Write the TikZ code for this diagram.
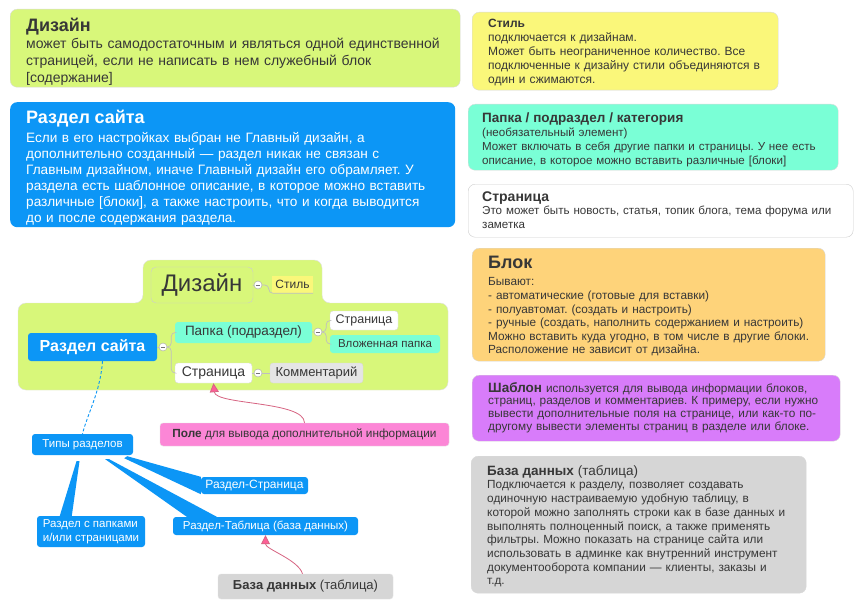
\documentclass[tikz,border=0pt]{standalone}
\usepackage{fontspec}
\setmainfont{Liberation Sans}
\usetikzlibrary{arrows.meta,calc}
\frenchspacing

\definecolor{dgreen}{RGB}{216,247,122}
\definecolor{dblue}{RGB}{12,150,246}
\definecolor{dyellow}{RGB}{250,247,122}
\definecolor{daqua}{RGB}{122,255,214}
\definecolor{dorange}{RGB}{254,211,122}
\definecolor{dviolet}{RGB}{216,124,250}
\definecolor{dgray}{RGB}{214,214,214}
\definecolor{dpink}{RGB}{252,134,214}
\definecolor{dtext}{RGB}{55,55,55}
\definecolor{dline}{RGB}{215,100,130}

\newcommand{\fs}[2]{\fontsize{#1}{#2}\selectfont}

\tikzset{
  note/.style = {draw = black!15, rounded corners = 7pt, anchor = north west, align = left, inner xsep = 16pt, inner ysep = 0pt, text = dtext},
  topic/.style = {rounded corners = 3pt, inner sep = 1pt, text = dtext},
  minus/.style = {circle, draw = black!35, fill = white, minimum size = 8pt, inner sep = 0pt,
    path picture = {\draw [black!55, line width = 0.9pt] ($(path picture bounding box.center) + (-2.2, 0)$) -- ($(path picture bounding box.center) + (2.2, 0)$);}},
  branch/.style = {draw = black!25, line width = 0.7pt, rounded corners = 4pt},
  wedge/.style = {fill = dblue},
  dashline/.style = {dblue, densely dashed, line width = 0.9pt},
  pinkarrow/.style = {dline, line width = 0.8pt, -{Triangle[length = 9pt, width = 9pt, fill = dpink!70!red]}}
}

\begin{document}
\begin{tikzpicture}[x = 1pt, y = -1pt]
\useasboundingbox [fill = white] (0, 0) rectangle (860, 610);
%\draw [very thin, color = gray!30] (0, 0) grid [step = 50] (860, 610);
% notes on the left
\node (dznote) at (10, 9) [note, fill = dgreen, text width = 418pt, text height = 22pt, text depth = 56pt, font = \fs{14}{17}]
  {{\fs{18}{22}\bfseries Дизайн}\\ может быть самодостаточным и являться одной единственной\\ страницей, если не написать в нем служебный блок\\{}[содержание]};
\node (rznote) at (10, 102) [note, draw = none, fill = dblue, text = white, text width = 413pt, text height = 21pt, text depth = 104pt, font = \fs{13.6}{16}]
  {{\fs{18}{22}\bfseries Раздел сайта}\\[3pt] Если в его настройках выбран не Главный дизайн, а\\ дополнительно созданный — раздел никак не связан с\\ Главным дизайном, иначе Главный дизайн его обрамляет. У\\ раздела есть шаблонное описание, в которое можно вставить\\ различные [блоки], а также настроить, что и когда выводится\\ до и после содержания раздела.};
% notes on the right
\node (stnote) at (472, 12) [note, fill = dyellow, text width = 274pt, text height = 15pt, text depth = 63pt, font = \fs{12}{14}]
  {{\bfseries Стиль}\\ подключается к дизайнам.\\ Может быть неограниченное количество. Все\\ подключенные к дизайну стили объединяются в\\ один и сжимаются.};
\node (pknote) at (468, 104) [note, inner xsep = 14pt, fill = daqua, text width = 342pt, text height = 18pt, text depth = 48pt, font = \fs{11.6}{14}]
  {{\fs{13.5}{16}\bfseries Папка / подраздел / категория}\\ (необязательный элемент)\\ Может включать в себя другие папки и страницы. У нее есть\\ описание, в которое можно вставить различные [блоки]};
\node (srnote) at (468, 184) [note, inner xsep = 14pt, fill = white, draw = black!20, text width = 357pt, text height = 17pt, text depth = 36pt, font = \fs{11.6}{13.5}]
  {{\fs{14}{16}\bfseries Страница}\\ Это может быть новость, статья, топик блога, тема форума или\\ заметка};
\node (blnote) at (472, 248) [note, fill = dorange, text width = 321pt, text height = 20pt, text depth = 93pt, font = \fs{11.8}{13.6}]
  {{\fs{18}{21}\bfseries Блок}\\[4pt] Бывают:\\ - автоматические (готовые для вставки)\\ - полуавтомат. (создать и настроить)\\ - ручные (создать, наполнить содержанием и настроить)\\ Можно вставить куда угодно, в том числе в другие блоки.\\ Расположение не зависит от дизайна.};
\node (shnote) at (472, 375) [note, fill = dviolet, text width = 336pt, text height = 17pt, text depth = 49pt, font = \fs{11.8}{12.7}]
  {{\fs{13.5}{14}\bfseries Шаблон} используется для вывода информации блоков,\\ страниц, разделов и комментариев. К примеру, если нужно\\ вывести дополнительные поля на странице, или как-то по-\\ другому вывести элементы страниц в разделе или блоке.};
\node (bdnote) at (471, 456) [note, fill = dgray, text width = 303pt, text height = 19pt, text depth = 118pt, font = \fs{11.8}{13.7}]
  {{\fs{13.5}{15}\bfseries База данных} {\fs{13.5}{15}(таблица)}\\ Подключается к разделу, позволяет создавать\\ одиночную настраиваемую удобную таблицу, в\\ которой можно заполнять строки как в базе данных и\\ выполнять полноценный поиск, а также применять\\ фильтры. Можно показать на странице сайта или\\ использовать в админке как внутренний инструмент\\ документооборота компании — клиенты, заказы и\\ т.д.};
% map
\draw [black!12, fill = dgreen, rounded corners = 8pt] (18, 303) -- (143, 303) -- (143, 260) -- (322, 260) -- (322, 303) -- (448, 303) -- (448, 390) -- (18, 390) -- cycle;
\node (dz) at (202, 285) [topic, draw = black!20, fill = dgreen, rounded corners = 5pt, minimum width = 102pt, minimum height = 36pt, font = \fs{24}{28}] {Дизайн};
\node (m1) at (258, 285) [minus] {};
\node (stil) at (292.5, 284.5) [topic, fill = dyellow, rounded corners = 0pt, minimum width = 41pt, minimum height = 17pt, font = \fs{12}{14}] {Стиль};
\node (razdel) at (92.5, 347) [topic, fill = dblue, text = white, minimum width = 129pt, minimum height = 28pt, font = \fs{16}{18}\bfseries] {Раздел сайта};
\node (m2) at (163, 347) [minus] {};
\node (papka) at (243.5, 332.5) [topic, fill = daqua, minimum width = 137pt, minimum height = 21pt, font = \fs{13.5}{16}] {Папка (подраздел)};
\node (m3) at (318, 332) [minus] {};
\node (str2) at (364, 320.5) [topic, draw = black!15, fill = white, minimum width = 68pt, minimum height = 19pt, font = \fs{12.5}{14}] {Страница};
\node (vlozh) at (385, 344) [topic, fill = daqua, minimum width = 110pt, minimum height = 18pt, font = \fs{11.5}{13}] {Вложенная папка};
\node (str1) at (213.5, 373) [topic, draw = black!15, fill = white, minimum width = 77pt, minimum height = 20pt, font = \fs{14}{16}] {Страница};
\node (m4) at (258, 373) [minus] {};
\node (komm) at (316.5, 373) [topic, draw = black!15, fill = black!10, minimum width = 93pt, minimum height = 20pt, font = \fs{13}{15}] {Комментарий};
\draw [branch] (dz) -- (m1);
\draw [branch] (m1.east) -| ([xshift = -3pt]stil.south west) -- (stil.south east);
\draw [branch] (razdel) -- (m2);
\draw [branch] (m2.east) -- ++(4, 0) |- (papka.west);
\draw [branch] (m2.east) -- ++(4, 0) |- (str1.west);
\draw [branch] (papka) -- (m3);
\draw [branch] (m3.east) -- ++(4, 0) |- (str2.west);
\draw [branch] (m3.east) -- ++(4, 0) |- (vlozh.west);
\draw [branch] (str1) -- (m4);
\draw [branch] (m4) -- (komm);
% section types
\node (tipy) at (82.5, 444.5) [topic, fill = dblue, text = white, minimum width = 101pt, minimum height = 21pt, font = \fs{11.5}{13}] {Типы разделов};
\node (rstr) at (254.5, 485.5) [topic, fill = dblue, text = white, minimum width = 107pt, minimum height = 17pt, font = \fs{12}{14}] {Раздел-Страница};
\node (rtab) at (265.5, 526) [topic, fill = dblue, text = white, minimum width = 185pt, minimum height = 18pt, font = \fs{11.5}{13}] {Раздел-Таблица (база данных)};
\node (rpap) at (91, 531.5) [topic, fill = dblue, text = white, align = left, minimum width = 108pt, minimum height = 31pt, font = \fs{11.5}{14}] {Раздел с папками\\и/или страницами};
\draw [dashline] ([xshift = 10pt]razdel.south) .. controls +(-2, 30) and +(5, -20) .. (tipy.north);
\fill [wedge] ($(tipy.south east) + (-6, 1)$) -- (rstr.north west) -- (rstr.south west) -- ($(tipy.south east) + (-9, 3)$) -- cycle;
\fill [wedge] ($(tipy.south east) + (-24, 4)$) -- ($(rtab.north west) + (44, 0)$) -- ($(rtab.north west) + (14, 0)$) -- ($(tipy.south east) + (-28, 4)$) -- cycle;
\fill [wedge] ($(tipy.south) + (-3, 6)$) -- ($(rpap.north west) + (35, 0)$) -- ($(rpap.north west) + (23, 0)$) -- ($(tipy.south) + (-6, 6)$) -- cycle;
% callouts
\node (pole) at (304.5, 434.5) [topic, draw = black!10, fill = dpink, minimum width = 289pt, minimum height = 23pt, font = \fs{11.8}{14}] {\textbf{Поле} для вывода дополнительной информации};
\node (bdsm) at (305.5, 586.5) [topic, draw = black!10, fill = dgray, minimum width = 175pt, minimum height = 25pt, font = \fs{13}{15}] {\textbf{База данных} (таблица)};
\draw [pinkarrow] (pole.north) .. controls +(0, -22) and +(2, 22) .. (str1.south);
\draw [pinkarrow] ([xshift = -3pt]bdsm.north) .. controls +(-4, -14) and +(0, 14) .. (rtab.south);
\end{tikzpicture}
\end{document}
